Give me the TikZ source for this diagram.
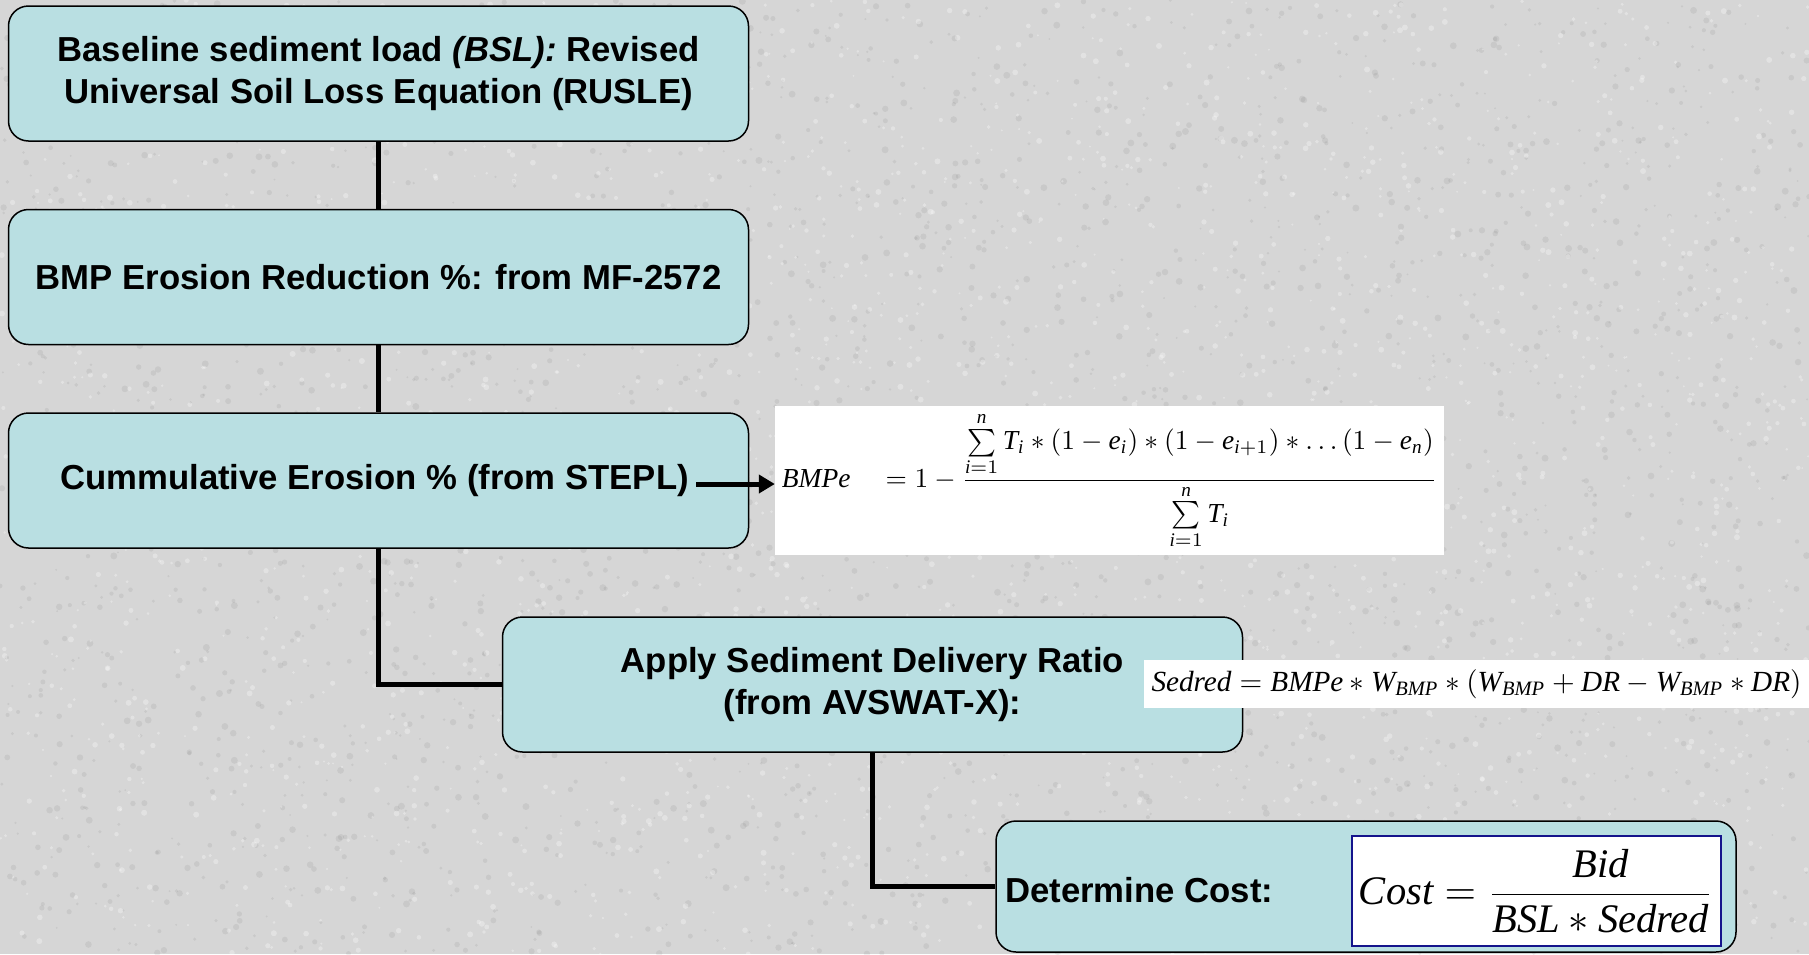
\documentclass[tikz,border=0pt]{standalone}
\usepackage{fontspec}
\setmainfont{Liberation Serif}
\setsansfont{Liberation Sans}
\usepackage{amsmath}
\usepackage{graphicx}
\usetikzlibrary{arrows.meta}
\definecolor{bgc}{RGB}{214,214,214}
\definecolor{boxfill}{RGB}{185,223,226}
\definecolor{navyb}{RGB}{20,20,140}
\newcommand\tv[1]{\textit{#1}}
\begin{document}
\begin{tikzpicture}[x=1pt,y=-1pt,
  stepbox/.style={draw=black, line width=1.5pt, fill=boxfill, rounded corners=20pt,
    minimum width=740pt, minimum height=135pt, align=center, inner sep=0pt,
    font=\sffamily\bfseries\fontsize{34.7}{41.5}\selectfont},
  lbl/.style={font=\sffamily\bfseries\fontsize{34.7}{41.5}\selectfont, inner sep=0pt},
  conn/.style={line width=5pt, black},
  fbox/.style={fill=white, inner sep=0pt},
  speckd/.style={fill=black, opacity=0.06},
  speckl/.style={fill=white, opacity=0.30},
]
\useasboundingbox (0,0) rectangle (1809,954);
\begin{scope}
\clip (0,0) rectangle (1809,954);
\fill[bgc] (0,0) rectangle (1809,954);
\pgfmathsetseed{7}
\foreach \k in {1,...,3000}{
  \fill[speckd] ({rnd*1809},{rnd*954}) circle ({1+rnd*2.5});
}
\foreach \k in {1,...,2500}{
  \fill[speckl] ({rnd*1809},{rnd*954}) circle ({1+rnd*2});
}
\end{scope}

\node[stepbox] (b1) at (378.5,73.5) {Baseline sediment load \textit{(BSL):} Revised\\Universal Soil Loss Equation (RUSLE)};
\node[stepbox] (b2) at (378.5,277) {BMP Erosion Reduction \%: from MF-2572};
\node[stepbox] (b3) at (378.5,480.5) {Cummulative Erosion \% (from STEPL)\hspace*{8pt}};
\node[stepbox] (b4) at (872.5,684.5) {Apply Sediment Delivery Ratio\\(from AVSWAT-X):};
\node[stepbox, minimum height=131pt] (b5) at (1366,886.5) {};
\node[lbl, anchor=west] (dc) at (1005,890) {Determine Cost:};

\draw[conn] (b1.south) -- (b2.north);
\draw[conn] (b2.south) -- (b3.north);
\draw[conn] (b3.south) |- (b4.west);
\draw[conn] (b4.south) |- (b5.west);

\node[fbox, minimum width=669pt, minimum height=149pt] (f1) at (1109.5,480.5)
  {\resizebox{655pt}{!}{$\tv{BMPe}\quad = 1 - \dfrac{\sum\limits_{\tv{i}=1}^{\tv{n}} \tv{T}_{\tv{i}} * (1 - \tv{e}_{\tv{i}}) * (1 - \tv{e}_{\tv{i}+1}) * \ldots(1 - \tv{e}_{\tv{n}})}{\sum\limits_{\tv{i}=1}^{\tv{n}} \tv{T}_{\tv{i}}}$}};
\coordinate (a0) at (696,484);
\draw[conn, -{Triangle[length=16pt,width=18pt]}] (a0) -- (a0 -| f1.west);

\node[fbox, minimum width=665pt, minimum height=48pt] (f2) at (1476.5,684)
  {\resizebox{650pt}{!}{$\tv{Sedred} = \tv{BMPe} * \tv{W}_{\tv{BMP}} * (\tv{W}_{\tv{BMP}} + \tv{DR} - \tv{W}_{\tv{BMP}} * \tv{DR})$}};

\node[fbox, draw=navyb, line width=2pt, minimum width=369pt, minimum height=110pt] (f3) at (1536.5,891)
  {\resizebox{355pt}{!}{$\tv{Cost} = \dfrac{\tv{Bid}}{\tv{BSL} * \tv{Sedred}}$}};
\end{tikzpicture}
\end{document}
